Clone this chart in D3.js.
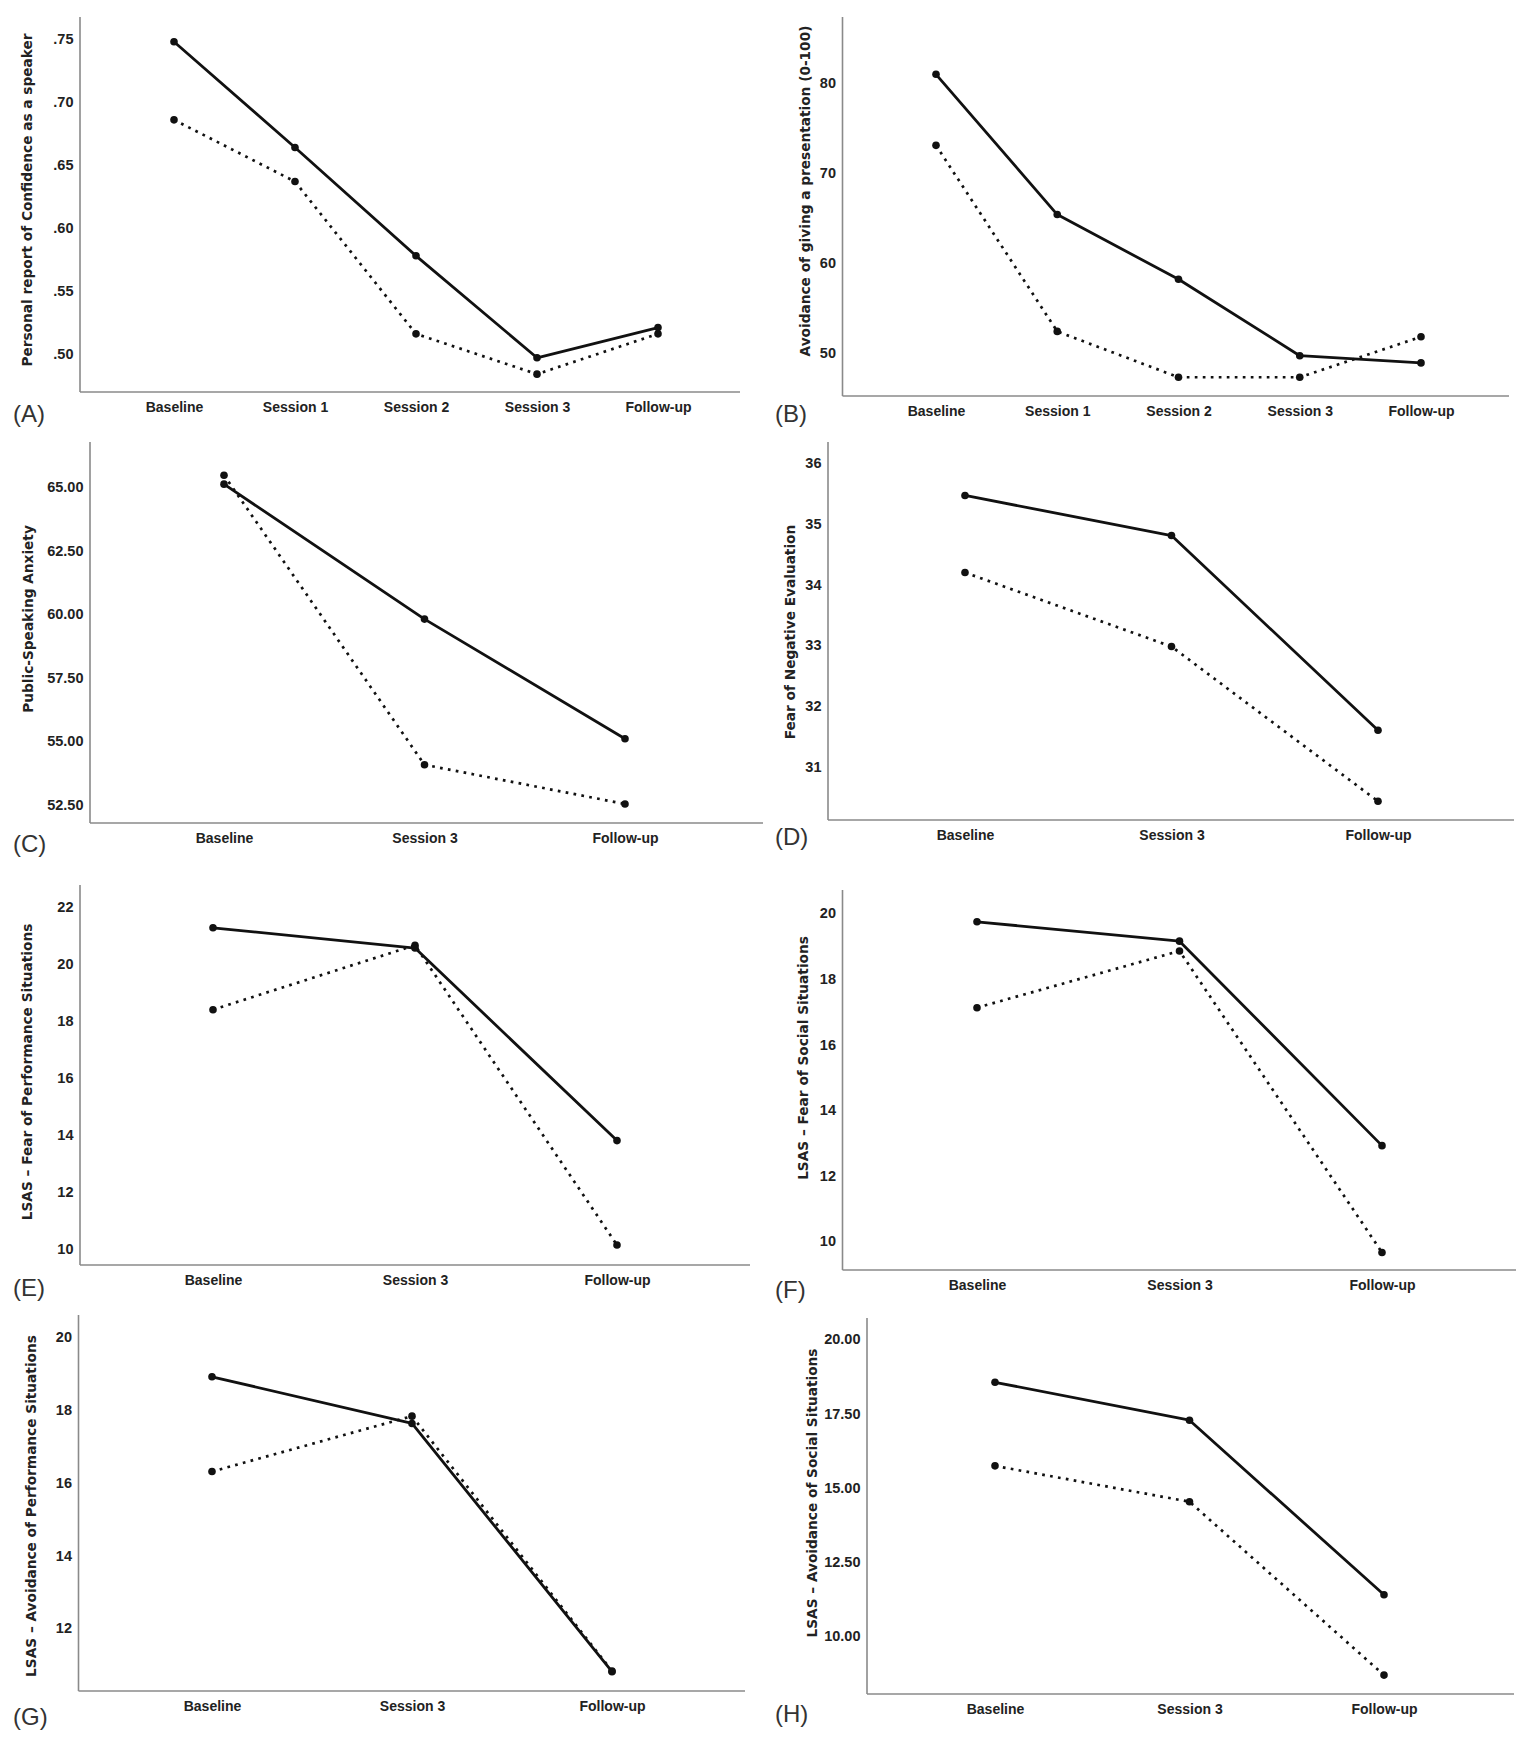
<!DOCTYPE html>
<html>
<head>
<meta charset="utf-8">
<script src="https://cdn.jsdelivr.net/npm/d3@7"></script>
<style>
  html, body { margin: 0; padding: 0; background: #fff; }
  svg { display: block; }
</style>
</head>
<body>
<svg id="chart" width="1538" height="1742"></svg>
<script>
// ---------- DATA ----------
const catsFive  = ["Baseline", "Session 1", "Session 2", "Session 3", "Follow-up"];
const catsThree = ["Baseline", "Session 3", "Follow-up"];

// (A) Personal report of Confidence as a speaker
const aSolid  = [0.748, 0.664, 0.578, 0.497, 0.521];
const aDotted = [0.686, 0.637, 0.516, 0.484, 0.516];
const aTicks  = [0.50, 0.55, 0.60, 0.65, 0.70, 0.75];

// (B) Avoidance of giving a presentation (0-100)
const bSolid  = [81.0, 65.4, 58.2, 49.7, 48.9];
const bDotted = [73.1, 52.4, 47.3, 47.3, 51.8];
const bTicks  = [50, 60, 70, 80];

// (C) Public-Speaking Anxiety
const cSolid  = [65.1, 59.8, 55.1];
const cDotted = [65.45, 54.08, 52.54];
const cTicks  = [52.5, 55, 57.5, 60, 62.5, 65];

// (D) Fear of Negative Evaluation
const dSolid  = [35.47, 34.81, 31.60];
const dDotted = [34.20, 32.98, 30.43];
const dTicks  = [31, 32, 33, 34, 35, 36];

// (E) LSAS – Fear of Performance Situations
const eSolid  = [21.26, 20.55, 13.80];
const eDotted = [18.39, 20.65, 10.14];
const eTicks  = [10, 12, 14, 16, 18, 20, 22];

// (F) LSAS – Fear of Social Situations
const fSolid  = [19.74, 19.15, 12.91];
const fDotted = [17.12, 18.85, 9.65];
const fTicks  = [10, 12, 14, 16, 18, 20];

// (G) LSAS – Avoidance of Performance Situations
const gSolid  = [18.90, 17.62, 10.81];
const gDotted = [16.30, 17.82, 10.83];
const gTicks  = [12, 14, 16, 18, 20];

// (H) LSAS – Avoidance of Social Situations
const hSolid  = [18.55, 17.27, 11.38];
const hDotted = [15.73, 14.52, 8.67];
const hTicks  = [10, 12.5, 15, 17.5, 20];

const panelLetters = ["(A)", "(B)", "(C)", "(D)", "(E)", "(F)", "(G)", "(H)"];
const yTitles = [
  "Personal report of Confidence as a speaker",
  "Avoidance of giving a presentation (0-100)",
  "Public-Speaking Anxiety",
  "Fear of Negative Evaluation",
  "LSAS \u2013 Fear of Performance Situations",
  "LSAS \u2013 Fear of Social Situations",
  "LSAS \u2013 Avoidance of Performance Situations",
  "LSAS \u2013 Avoidance of Social Situations"
];

// ---------- LAYOUT (pixels) ----------
const fmtA = v => d3.format(".2f")(v).replace(/^0/, "");
const fmtInt = d3.format("d");
const fmt2 = d3.format(".2f");

const panels = [
  { cats: catsFive,  solid: aSolid, dotted: aDotted, ticks: aTicks, fmt: fmtA,
    box: [80, 17, 740, 392],   px: [174, 658],  ymap: [0.50, 354, 0.75, 39.3],
    letter: [13, 422], title: [27, 200] },
  { cats: catsFive,  solid: bSolid, dotted: bDotted, ticks: bTicks, fmt: fmtInt,
    box: [842.5, 17, 1509, 396], px: [936, 1421], ymap: [50, 353, 80, 83.3],
    letter: [775, 422], title: [805, 191] },
  { cats: catsThree, solid: cSolid, dotted: cDotted, ticks: cTicks, fmt: fmt2,
    box: [90, 442, 763, 823],  px: [224, 625],  ymap: [52.5, 805, 65, 486.7],
    letter: [13, 852], title: [28, 619] },
  { cats: catsThree, solid: dSolid, dotted: dDotted, ticks: dTicks, fmt: fmtInt,
    box: [828, 442, 1514, 820], px: [965, 1378], ymap: [31, 766.7, 36, 463.3],
    letter: [775, 845], title: [790, 632] },
  { cats: catsThree, solid: eSolid, dotted: eDotted, ticks: eTicks, fmt: fmtInt,
    box: [80, 885, 750, 1265], px: [213, 617],  ymap: [10, 1249, 22, 906.7],
    letter: [13, 1296], title: [27, 1072] },
  { cats: catsThree, solid: fSolid, dotted: fDotted, ticks: fTicks, fmt: fmtInt,
    box: [842.5, 890, 1516, 1270], px: [977, 1382], ymap: [10, 1241, 20, 913.3],
    letter: [775, 1298], title: [803, 1058] },
  { cats: catsThree, solid: gSolid, dotted: gDotted, ticks: gTicks, fmt: fmtInt,
    box: [78.5, 1315, 745, 1691], px: [212, 612], ymap: [12, 1628.3, 20, 1336.7],
    letter: [13, 1725], title: [31, 1506] },
  { cats: catsThree, solid: hSolid, dotted: hDotted, ticks: hTicks, fmt: fmt2,
    box: [867, 1318, 1514, 1694], px: [995, 1384], ymap: [10, 1635.7, 20, 1339.3],
    letter: [775, 1722], title: [812, 1493] }
];

const svg = d3.select("#chart");
const AXIS_COL = "#8a8a8a";
const TEXT_COL = "#222";

panels.forEach((p, i) => {
  const [left, top, right, bottom] = p.box;
  const g = svg.append("g");

  const x = d3.scalePoint().domain(p.cats).range(p.px);
  const y = d3.scaleLinear().domain([p.ymap[0], p.ymap[2]]).range([p.ymap[1], p.ymap[3]]);

  // axis lines (L shape)
  g.append("line").attr("x1", left).attr("x2", left).attr("y1", top).attr("y2", bottom)
    .attr("stroke", AXIS_COL).attr("stroke-width", 1.6);
  g.append("line").attr("x1", left).attr("x2", right).attr("y1", bottom).attr("y2", bottom)
    .attr("stroke", AXIS_COL).attr("stroke-width", 1.6);

  // y axis tick labels
  const yAxis = d3.axisLeft(y).tickValues(p.ticks).tickSize(0).tickPadding(6.5).tickFormat(p.fmt);
  const ya = g.append("g").attr("transform", `translate(${left},0)`).call(yAxis);
  ya.select(".domain").remove();
  ya.selectAll("text")
    .attr("font-family", "'Liberation Sans', Arial, sans-serif")
    .attr("font-size", 14.5).attr("font-weight", "bold").attr("fill", TEXT_COL);

  // x axis labels
  const xAxis = d3.axisBottom(x).tickSize(0).tickPadding(10);
  const xa = g.append("g").attr("transform", `translate(0,${bottom})`).call(xAxis);
  xa.select(".domain").remove();
  xa.selectAll("text")
    .attr("font-family", "'Liberation Sans', Arial, sans-serif")
    .attr("font-size", 14).attr("font-weight", "bold").attr("fill", TEXT_COL);

  // y title
  g.append("text")
    .attr("transform", `translate(${p.title[0]},${p.title[1]}) rotate(-90)`)
    .attr("text-anchor", "middle").attr("dy", "0.35em")
    .attr("font-family", "'DejaVu Sans', Verdana, sans-serif")
    .attr("font-size", 13.7).attr("font-weight", "bold").attr("fill", TEXT_COL)
    .text(yTitles[i]);

  // panel letter
  g.append("text").attr("x", p.letter[0]).attr("y", p.letter[1])
    .attr("font-family", "'Liberation Sans', Arial, sans-serif")
    .attr("font-size", 24).attr("fill", "#333")
    .text(panelLetters[i]);

  const line = d3.line().x((d, k) => x(p.cats[k])).y(d => y(d));

  // dotted series
  g.append("path").datum(p.dotted).attr("d", line)
    .attr("fill", "none").attr("stroke", "#111").attr("stroke-width", 2.7)
    .attr("stroke-dasharray", "2.7,5.3");
  // solid series
  g.append("path").datum(p.solid).attr("d", line)
    .attr("fill", "none").attr("stroke", "#111").attr("stroke-width", 2.8)
    .attr("stroke-linejoin", "round");

  // markers
  [p.dotted, p.solid].forEach(series => {
    g.selectAll(null).data(series).enter().append("circle")
      .attr("cx", (d, k) => x(p.cats[k])).attr("cy", d => y(d))
      .attr("r", 3.8).attr("fill", "#111");
  });
});
</script>
</body>
</html>
